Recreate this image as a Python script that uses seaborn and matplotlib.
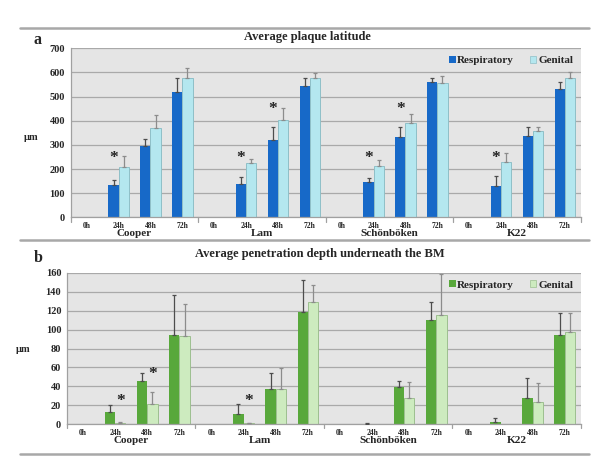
import matplotlib
matplotlib.use("Agg")
import matplotlib.pyplot as plt
from matplotlib.lines import Line2D
from matplotlib.patches import Patch
import numpy as np
import pandas as pd
import seaborn as sns

STRAINS = ["Cooper", "Lam", "Schönböken", "K22"]
TIMES = ["0h", "24h", "48h", "72h"]
ROUTES = ["Respiratory", "Genital"]

# panel a: average plaque latitude (µm)
lat_resp = [0, 134, 297, 517, 0, 137, 322, 544, 0, 146, 333, 562, 0, 130, 337, 530]
lat_resp_err = [0, 21, 26, 62, 0, 30, 50, 31, 0, 17, 39, 14, 0, 40, 35, 29]
lat_gen = [0, 210, 369, 575, 0, 224, 402, 576, 0, 213, 391, 555, 0, 228, 356, 575]
lat_gen_err = [0, 45, 55, 42, 0, 18, 52, 21, 0, 25, 36, 31, 0, 37, 18, 26]
lat_star_slots = [1, 5, 6, 9, 10, 13]
lat_star_level = [245, 245, 450, 245, 450, 245]

# panel b: average penetration depth underneath the BM (µm)
pen_resp = [0, 13.4, 45.4, 93.9, 0, 11.3, 37.3, 118.8, 0, 0.7, 39.7, 109.7, 0, 2.1, 27.4, 94.2]
pen_resp_err = [0, 6.6, 8.6, 43, 0, 9.7, 16.5, 34, 0, 0.3, 5.7, 19.3, 0, 4.6, 21.5, 23.6]
pen_gen = [0, 1.4, 21, 92.8, 0, 1.0, 37.3, 129, 0, 0, 27.8, 115, 0, 0, 23.2, 97.4]
pen_gen_err = [0, 0.7, 12.8, 34, 0, 0.4, 21.7, 18, 0, 0, 16.5, 44, 0, 0, 20, 20.4]
pen_star_slots = [1, 2, 5]
pen_star_level = [25, 53, 25]

FONT = "Liberation Serif"

sns.set_style("white")
plt.rcParams["font.family"] = [FONT, "DejaVu Serif"]
plt.rcParams["font.weight"] = "bold"


def long_frame(resp, gen):
    slots = [f"{s} {t}" for s in STRAINS for t in TIMES]
    rows = []
    for route, vals in zip(ROUTES, [resp, gen]):
        for slot, v in zip(slots, vals):
            rows.append({"slot": slot, "route": route, "value": v})
    return pd.DataFrame(rows), slots


def draw_panel(ax, resp, resp_err, gen, gen_err, colors, edge_gen, ymax, ystep,
               star_slots, star_level, star_route):
    df, slots = long_frame(resp, gen)
    sns.barplot(data=df, x="slot", y="value", hue="route", order=slots, hue_order=ROUTES,
                palette=colors, width=0.64, errorbar=None, ax=ax, legend=False,
                linewidth=0.6, edgecolor="none", saturation=1)
    bars = list(ax.containers)
    for bar in bars[1]:
        bar.set_edgecolor(edge_gen)
        bar.set_linewidth(0.7)

    errs = [resp_err, gen_err]
    vals = [resp, gen]
    ecolors = ["#4d4d4d", "#8c8c8c"]
    for i, cont in enumerate(bars):
        xs, ys, es = [], [], []
        for bar, v, e in zip(cont, vals[i], errs[i]):
            if v == 0 and e == 0:
                continue
            xs.append(bar.get_x() + bar.get_width() / 2)
            ys.append(v)
            es.append(e)
        ax.errorbar(xs, ys, yerr=[np.zeros(len(es)), es], fmt="none", ecolor=ecolors[i],
                    elinewidth=0.9, capsize=1.4, capthick=0.9, zorder=3)

    cont = bars[ROUTES.index(star_route)]
    for slot, lvl in zip(star_slots, star_level):
        bar = cont[slot]
        ax.text(bar.get_x() + bar.get_width() / 2, lvl, "*", ha="center", va="center",
                fontsize=12.5, fontweight="bold", color="#222222", zorder=4)

    ax.set_facecolor("#e5e5e5")
    ax.set_xlim(-0.5, 15.5)
    ax.set_ylim(0, ymax)
    ax.set_yticks(np.arange(0, ymax + 1, ystep))
    ax.yaxis.grid(True, color="#a9a9a9", linewidth=0.9)
    ax.xaxis.grid(False)
    ax.set_axisbelow(True)
    for side in ["top", "right"]:
        ax.spines[side].set_visible(False)
    for side in ["left", "bottom"]:
        ax.spines[side].set_color("#a0a0a0")
        ax.spines[side].set_linewidth(0.9)
    ax.tick_params(axis="y", length=2.2, width=0.8, color="#a0a0a0", pad=2, labelsize=7.5)
    ax.tick_params(axis="x", length=0, pad=3.2, labelsize=5.5)
    ax.set_xticks(range(16))
    ax.set_xticklabels(TIMES * 4)
    ax.set_xlabel("")
    ax.set_ylabel("")

    for b in [-0.5, 3.5, 7.5, 11.5, 15.5]:
        ax.plot([b, b], [0, -0.025], transform=ax.get_xaxis_transform(), color="#a0a0a0",
                linewidth=0.9, clip_on=False)
    for i, name in enumerate(STRAINS):
        ax.annotate(name, xy=(4 * i + 1.5, 0), xycoords=("data", "axes fraction"),
                    xytext=(0, -11.4), textcoords="offset points", ha="center", va="center",
                    fontsize=8, fontweight="bold")

    handles = [Patch(facecolor=colors[0], edgecolor="none"),
               Patch(facecolor=colors[1], edgecolor=edge_gen, linewidth=0.5)]
    ax.legend(handles, ROUTES, loc="upper right", bbox_to_anchor=(1.0, 1.0), ncol=2,
              frameon=False, handlelength=0.55, handleheight=0.55, handletextpad=0.15,
              columnspacing=1.45, borderaxespad=0.3, prop={"size": 8, "weight": "bold"})


fig = plt.figure(figsize=(6, 4.63), dpi=100)
ax_a = fig.add_axes([0.118, 0.5307, 0.850, 0.3650])
ax_b = fig.add_axes([0.1117, 0.0836, 0.8563, 0.3274])

draw_panel(ax_a, lat_resp, lat_resp_err, lat_gen, lat_gen_err, ["#1769c8", "#b4e7ef"],
           "#8fbfc7", 700, 100, lat_star_slots, lat_star_level, "Respiratory")
draw_panel(ax_b, pen_resp, pen_resp_err, pen_gen, pen_gen_err, ["#58a83b", "#cdebbf"],
           "#9dbf8f", 160, 20, pen_star_slots, pen_star_level, "Genital")

for y in [1 - 27.7 / 463, 1 - 240 / 463, 1 - 454.3 / 463]:
    fig.add_artist(Line2D([20 / 600, 589 / 600], [y, y], color="#a8a8a8", linewidth=1.8))

fig.text(307.5 / 600, 1 - 37.3 / 463, "Average plaque latitude", ha="center", va="center",
         fontsize=9, fontweight="bold")
fig.text(320 / 600, 1 - 254.3 / 463, "Average penetration depth underneath the BM",
         ha="center", va="center", fontsize=9, fontweight="bold")
fig.text(37 / 600, 1 - 40 / 463, "a", ha="center", va="center", fontsize=11.5, fontweight="bold")
fig.text(38 / 600, 1 - 258 / 463, "b", ha="center", va="center", fontsize=11.5, fontweight="bold")
fig.text(31 / 600, 1 - 137 / 463, "µm", ha="center", va="center", fontsize=7.5, fontweight="bold")
fig.text(23 / 600, 1 - 349 / 463, "µm", ha="center", va="center", fontsize=7.5, fontweight="bold")

fig.savefig("out.png", dpi=100, facecolor="white")
